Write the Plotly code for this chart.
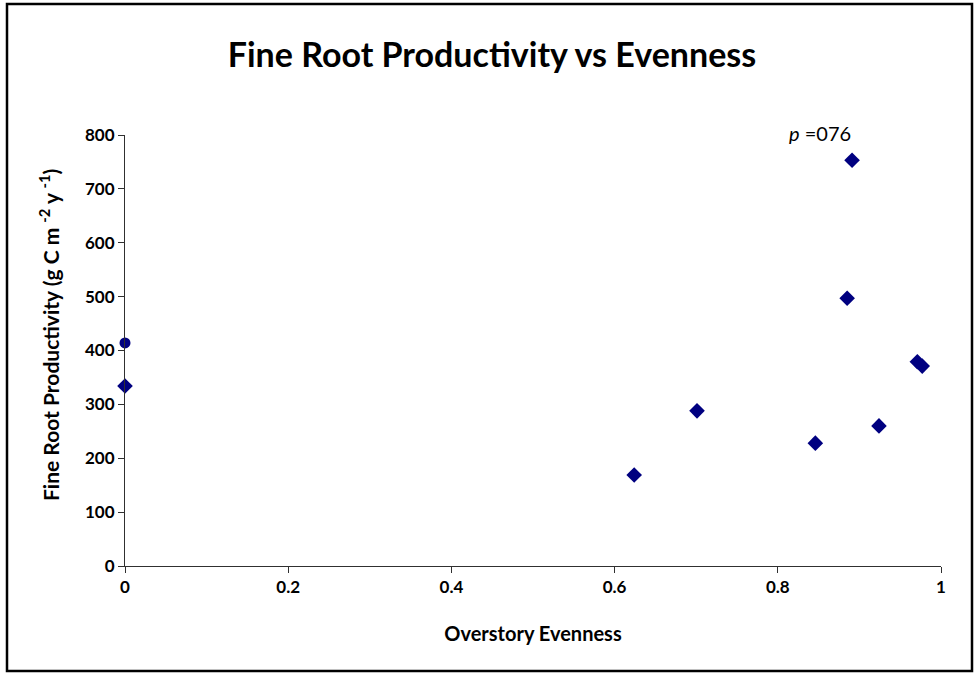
import plotly.graph_objects as go

evenness = [0.0, 0.624, 0.701, 0.846, 0.885, 0.891, 0.924, 0.971, 0.977]
productivity = [334, 169, 288, 228, 497, 753, 260, 379, 371]
circle_x = [0.0]
circle_y = [414]

x_ticks = [0, 0.2, 0.4, 0.6, 0.8, 1]
x_labels = ["0", "0.2", "0.4", "0.6", "0.8", "1"]
y_ticks = [0, 100, 200, 300, 400, 500, 600, 700, 800]

FONT = "Lato, Carlito, Calibri, sans-serif"
NAVY = "#000080"

W, H = 977, 674
L, R, T, B = 125, 36, 135, 108
pw, ph = W - L - R, H - T - B


def px_x(p):
    return (p - L) / pw


def px_y(p):
    return (H - B - p) / ph


fig = go.Figure()
fig.add_trace(go.Scatter(x=evenness, y=productivity, mode="markers",
                         marker=dict(symbol="diamond", size=12, color=NAVY),
                         cliponaxis=False, showlegend=False))
fig.add_trace(go.Scatter(x=circle_x, y=circle_y, mode="markers",
                         marker=dict(symbol="circle", size=11, color=NAVY),
                         cliponaxis=False, showlegend=False))

fig.update_layout(
    width=W, height=H,
    margin=dict(l=L, r=R, t=T, b=B),
    paper_bgcolor="white", plot_bgcolor="white",
    font=dict(family=FONT, color="black"),
    title=dict(text="<b>Fine Root Productivity vs Evenness</b>",
               x=492 / W, xref="container", xanchor="center",
               y=1 - 55 / H, yref="container", yanchor="middle",
               font=dict(size=34, family=FONT)),
    xaxis=dict(range=[0, 1], tickvals=x_ticks, ticktext=[f"<b>{t}</b>" for t in x_labels],
               showgrid=False, zeroline=False, showline=True, linecolor="#303030", linewidth=1,
               ticks="outside", ticklen=6, tickcolor="#303030",
               tickfont=dict(size=17, family=FONT),
               title=dict(text="<b>Overstory Evenness</b>", font=dict(size=20, family=FONT), standoff=30)),
    yaxis=dict(range=[0, 800], tickvals=y_ticks, ticktext=[f"<b>{t}</b>" for t in y_ticks],
               showgrid=False, zeroline=False, showline=True, linecolor="#303030", linewidth=1,
               ticks="outside", ticklen=6, tickcolor="#303030",
               tickfont=dict(size=17, family=FONT)),
    shapes=[dict(type="rect", xref="paper", yref="paper",
                 x0=px_x(7), x1=px_x(972), y0=px_y(671), y1=px_y(4),
                 line=dict(color="black", width=2.5))],
    annotations=[
        dict(text="<i>p</i> =076", x=px_x(820), y=px_y(133), xref="paper", yref="paper",
             xanchor="center", yanchor="middle", showarrow=False,
             font=dict(size=20, family=FONT)),
        dict(text="<b>Fine Root Productivity (g C m <sup>-2</sup> y <sup>-1</sup>)</b>",
             x=px_x(49), y=px_y(335), xref="paper", yref="paper", textangle=-90,
             xanchor="center", yanchor="middle", showarrow=False,
             font=dict(size=21, family=FONT)),
    ],
)

fig.write_html("out.html", config={"displayModeBar": False},
               post_script="document.body.style.margin='0';")
